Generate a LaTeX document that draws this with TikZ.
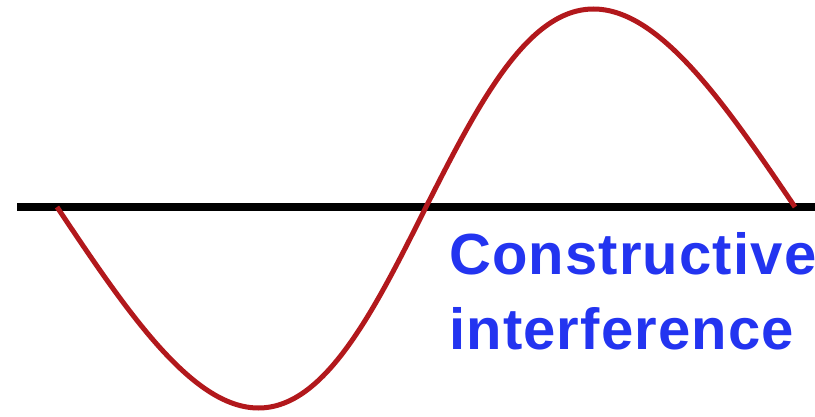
\documentclass[tikz,border=0pt]{standalone}
\usepackage{fontspec}
\setmainfont{Liberation Sans}
\definecolor{wavered}{RGB}{178,24,28}
\definecolor{labelblue}{RGB}{35,52,240}
\newfontfamily\labelfont[LetterSpace=2]{Liberation Sans}
\begin{document}
\begin{tikzpicture}[x=1pt,y=-1pt,
  axisline/.style={line width=8pt,black},
  wave/.style={line width=5pt,wavered},
  labeltext/.style={text=labelblue,font=\labelfont\bfseries\fontsize{58}{75}\selectfont,align=left,inner sep=0pt,anchor=north west}]
\useasboundingbox (0,0) rectangle (815,417);
\coordinate (axL) at (17,207);
\coordinate (axR) at (815,207);
\draw[axisline] (axL) -- (axR);
\draw[wave,line join=round] plot[domain=0:360,samples=241,smooth,variable=\t]
  ({57 + 2.05*\t + 17*sin(\t)}, {207 + 199.5*sin(\t) + 1.5*abs(sin(\t))});
\node[labeltext] (lbl) at (449,232) {Constructive\\interference};
\end{tikzpicture}
\end{document}
